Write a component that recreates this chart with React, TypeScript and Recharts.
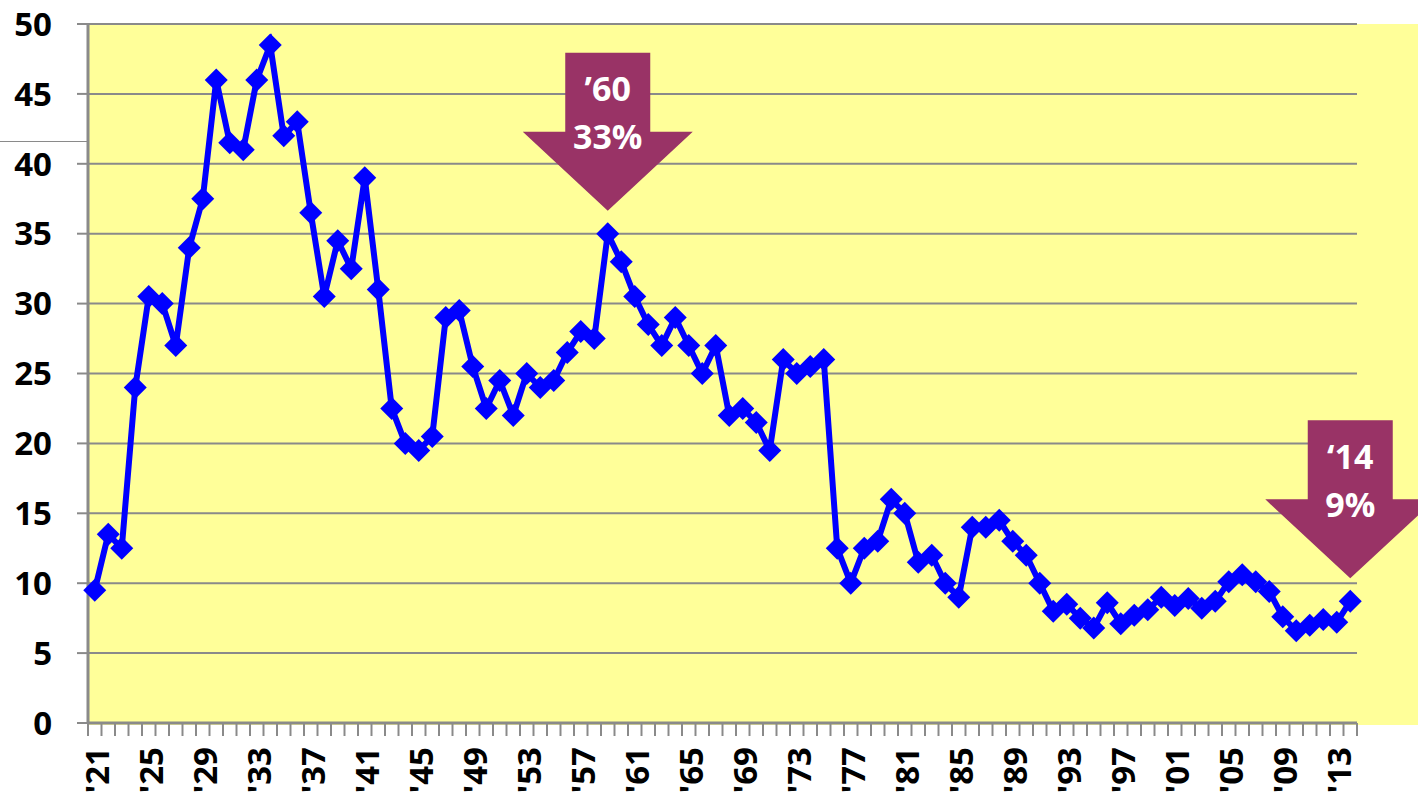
import React from 'react';
import { LineChart, Line, XAxis, YAxis, CartesianGrid, ReferenceDot, ReferenceLine } from 'recharts';

const years = [
  1921, 1922, 1923, 1924, 1925, 1926, 1927, 1928, 1929, 1930,
  1931, 1932, 1933, 1934, 1935, 1936, 1937, 1938, 1939, 1940,
  1941, 1942, 1943, 1944, 1945, 1946, 1947, 1948, 1949, 1950,
  1951, 1952, 1953, 1954, 1955, 1956, 1957, 1958, 1959, 1960,
  1961, 1962, 1963, 1964, 1965, 1966, 1967, 1968, 1969, 1970,
  1971, 1972, 1973, 1974, 1975, 1976, 1977, 1978, 1979, 1980,
  1981, 1982, 1983, 1984, 1985, 1986, 1987, 1988, 1989, 1990,
  1991, 1992, 1993, 1994, 1995, 1996, 1997, 1998, 1999, 2000,
  2001, 2002, 2003, 2004, 2005, 2006, 2007, 2008, 2009, 2010,
  2011, 2012, 2013, 2014,
];

const share = [
  9.5, 13.5, 12.5, 24, 30.5, 30, 27, 34, 37.5, 46,
  41.5, 41, 46, 48.5, 42, 43, 36.5, 30.5, 34.5, 32.5,
  39, 31, 22.5, 20, 19.5, 20.5, 29, 29.5, 25.5, 22.5,
  24.5, 22, 25, 24, 24.5, 26.5, 28, 27.5, 35, 33,
  30.5, 28.5, 27, 29, 27, 25, 27, 22, 22.5, 21.5,
  19.5, 26, 25, 25.5, 26, 12.5, 10, 12.5, 13, 16,
  15, 11.5, 12, 10, 9, 14, 14, 14.5, 13, 12,
  10, 8, 8.5, 7.5, 6.8, 8.6, 7.1, 7.7, 8.1, 9,
  8.4, 8.9, 8.2, 8.7, 10.1, 10.6, 10.1, 9.4, 7.6, 6.6,
  7, 7.4, 7.2, 8.7,
];

const labelYears = [
  1921, 1925, 1929, 1933, 1937, 1941, 1945, 1949, 1953, 1957, 1961, 1965,
  1969, 1973, 1977, 1981, 1985, 1989, 1993, 1997, 2001, 2005, 2009, 2013,
];

const yTicks = [0, 5, 10, 15, 20, 25, 30, 35, 40, 45, 50];

const callouts = [
  { year: 1959, value: 35, top: '\u201960', bottom: '33%' },
  { year: 2014, value: 8.7, top: '\u201814', bottom: '9%' },
];

const data = years.map((year, i) => ({ year, share: share[i] }));
// tick marks sit between the years, like a category axis
const boundaries = [...years.map((y) => y - 0.5), years[years.length - 1] + 0.5];

const FONT = '"Open Sans", "Liberation Sans", sans-serif';
const GRID = '#8a8a8a';
const TICK_DEPTH = 0.93; // ~13px below the zero line, in value units

const Diamond = (props: any) => {
  const { cx, cy, index } = props;
  if (cx == null || cy == null) return null;
  const r = 11.5;
  return (
    <polygon
      key={`d-${index}`}
      points={`${cx},${cy - r} ${cx + r},${cy} ${cx},${cy + r} ${cx - r},${cy}`}
      fill="#0000ff"
    />
  );
};

const YearTick = (props: any) => {
  const { x, y, payload } = props;
  const ty = y + 24;
  return (
    <text
      x={x}
      y={ty}
      transform={`rotate(-90, ${x}, ${ty})`}
      textAnchor="end"
      dy="0.42em"
      fontFamily={FONT}
      fontWeight={700}
      fontSize={33}
      fill="#000"
    >
      {"'" + String(payload.value).slice(2)}
    </text>
  );
};

const Callout = (props: any) => {
  const { cx, cy, top, bottom } = props;
  if (cx == null || cy == null) return null;
  const tip = cy - 23;
  const headH = 79;
  const headHalf = 85;
  const shaftHalf = 42.5;
  const shaftH = 79;
  const pts = [
    [cx - shaftHalf, tip - headH - shaftH],
    [cx + shaftHalf, tip - headH - shaftH],
    [cx + shaftHalf, tip - headH],
    [cx + headHalf, tip - headH],
    [cx, tip],
    [cx - headHalf, tip - headH],
    [cx - shaftHalf, tip - headH],
  ]
    .map((p) => p.join(','))
    .join(' ');
  return (
    <g>
      <polygon points={pts} fill="#993366" />
      <text x={cx} y={tip - 122} dy="0.36em" textAnchor="middle" fill="#fff" fontFamily={FONT} fontWeight={700} fontSize={34}>
        {top}
      </text>
      <text x={cx} y={tip - 74} dy="0.36em" textAnchor="middle" fill="#fff" fontFamily={FONT} fontWeight={700} fontSize={34}>
        {bottom}
      </text>
    </g>
  );
};

const App = () => {
  return (
    <div style={{ position: 'absolute', left: 0, top: 0, width: 1418, height: 801, overflow: 'hidden', background: '#fff' }}>
      <div style={{ position: 'absolute', left: 88, top: 24, width: 1330, height: 701, background: '#ffff99' }} />
      <div style={{ position: 'absolute', left: 0, top: 141, width: 87, height: 1, background: '#8a8a8a' }} />
      <div style={{ position: 'absolute', left: 0, top: 0 }}>
        <LineChart width={1418} height={801} data={data} margin={{ top: 24, right: 61, bottom: 0, left: 0 }}>
          <CartesianGrid vertical={false} stroke={GRID} strokeWidth={2} />
          <XAxis
            dataKey="year"
            type="number"
            domain={[1920.5, 2014.5]}
            ticks={labelYears}
            interval={0}
            tick={<YearTick />}
            tickLine={false}
            axisLine={{ stroke: GRID, strokeWidth: 3 }}
            tickSize={0}
            tickMargin={0}
            height={78}
          />
          <YAxis
            domain={[0, 50]}
            ticks={yTicks}
            interval={0}
            width={88}
            tickSize={11}
            tickMargin={25}
            tickLine={{ stroke: GRID, strokeWidth: 2 }}
            axisLine={{ stroke: GRID, strokeWidth: 3 }}
            tick={{ fontFamily: FONT, fontWeight: 700, fontSize: 33, fill: '#000' }}
          />
          {boundaries.map((b) => (
            <ReferenceLine
              key={`t-${b}`}
              segment={[
                { x: b, y: 0 },
                { x: b, y: -TICK_DEPTH },
              ]}
              ifOverflow="visible"
              stroke={GRID}
              strokeWidth={2}
            />
          ))}
          <Line
            dataKey="share"
            stroke="#0000ff"
            strokeWidth={6}
            dot={<Diamond />}
            activeDot={false}
            isAnimationActive={false}
          />
          {callouts.map((c) => (
            <ReferenceDot
              key={c.year}
              x={c.year}
              y={c.value}
              ifOverflow="visible"
              shape={(p: any) => <Callout {...p} top={c.top} bottom={c.bottom} />}
            />
          ))}
        </LineChart>
      </div>
    </div>
  );
};

export default App;
